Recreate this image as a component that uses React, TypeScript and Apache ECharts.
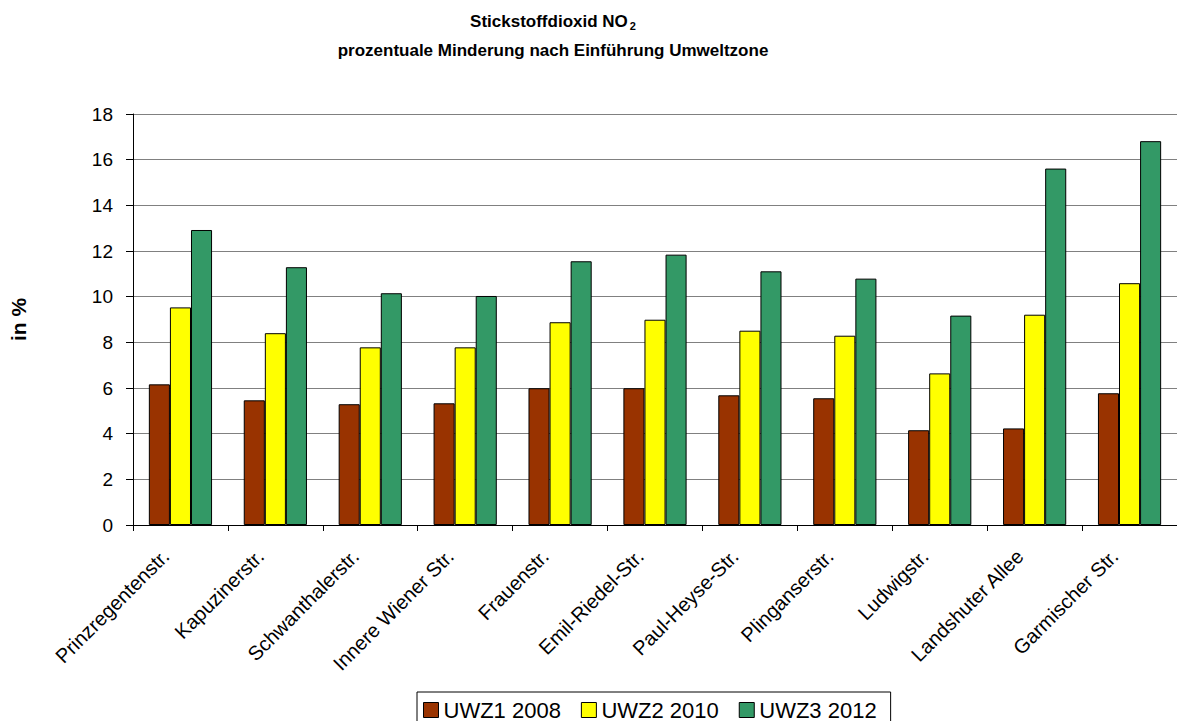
import React, { useEffect, useRef } from "react";
import * as echarts from "echarts";

const categories = [
  "Prinzregentenstr.",
  "Kapuzinerstr.",
  "Schwanthalerstr.",
  "Innere Wiener Str.",
  "Frauenstr.",
  "Emil-Riedel-Str.",
  "Paul-Heyse-Str.",
  "Plinganserstr.",
  "Ludwigstr.",
  "Landshuter Allee",
  "Garmischer Str.",
];

const uwz1_2008 = [6.16, 5.46, 5.29, 5.33, 5.99, 5.99, 5.68, 5.55, 4.15, 4.23, 5.77];
const uwz2_2010 = [9.53, 8.4, 7.78, 7.78, 8.88, 8.99, 8.51, 8.29, 6.64, 9.21, 10.59];
const uwz3_2012 = [12.92, 11.29, 10.15, 10.03, 11.55, 11.84, 11.11, 10.79, 9.17, 15.61, 16.81];

const seriesNames = ["UWZ1 2008", "UWZ2 2010", "UWZ3 2012"];
const seriesColors = ["#993300", "#FFFF00", "#339966"];

const FONT = "'Liberation Sans', Arial, sans-serif";

export default function App() {
  const ref = useRef<HTMLDivElement>(null);

  useEffect(() => {
    if (!ref.current) return;
    const chart = echarts.init(ref.current, undefined, { renderer: "svg" });
    const values = [uwz1_2008, uwz2_2010, uwz3_2012];

    chart.setOption({
      animation: false,
      backgroundColor: "#ffffff",
      textStyle: { fontFamily: FONT },
      graphic: [
        {
          type: "text",
          x: 553,
          y: 21,
          style: {
            text: "{b|Stickstoffdioxid NO}{s|2}",
            align: "center",
            verticalAlign: "middle",
            rich: {
              b: { fontFamily: FONT, fontWeight: "bold", fontSize: 17, fill: "#000" },
              s: { fontFamily: FONT, fontWeight: "bold", fontSize: 11, fill: "#000", padding: [9, 0, 0, 2] },
            },
          },
        },
        {
          type: "text",
          x: 553,
          y: 50,
          style: {
            text: "prozentuale Minderung nach Einführung Umweltzone",
            align: "center",
            verticalAlign: "middle",
            fontFamily: FONT,
            fontWeight: "bold",
            fontSize: 17,
            fill: "#000",
          },
        },
      ],
      legend: {
        data: seriesNames,
        left: 417,
        top: 692,
        orient: "horizontal",
        icon: "rect",
        itemWidth: 15,
        itemHeight: 15,
        itemGap: 20,
        padding: [7, 14, 8, 6],
        borderColor: "#000",
        borderWidth: 1,
        itemStyle: { borderColor: "#000", borderWidth: 1 },
        textStyle: { fontFamily: FONT, fontSize: 22, lineHeight: 22, color: "#000" },
      },
      grid: {
        left: 125,
        top: 114,
        width: 1057,
        height: 411,
        containLabel: false,
      },
      xAxis: {
        type: "category",
        data: categories,
        boundaryGap: true,
        axisLine: { lineStyle: { color: "#000", width: 1 } },
        axisTick: { show: true, alignWithLabel: false, length: 6, lineStyle: { color: "#000" } },
        axisLabel: {
          rotate: 45,
          interval: 0,
          fontFamily: FONT,
          fontSize: 20,
          color: "#000",
          margin: 13,
          padding: [0, 21, 0, 0],
        },
        splitLine: { show: false },
      },
      yAxis: {
        type: "value",
        min: 0,
        max: 18,
        interval: 2,
        name: "in %",
        nameLocation: "middle",
        nameGap: 104,
        nameTextStyle: { fontFamily: FONT, fontWeight: "bold", fontSize: 21, color: "#000" },
        axisLine: { show: true, lineStyle: { color: "#000", width: 1 } },
        axisTick: { show: true, inside: false, length: 7, lineStyle: { color: "#000" } },
        axisLabel: { fontFamily: FONT, fontSize: 19, color: "#000", margin: 20 },
        splitLine: { show: true, lineStyle: { color: "#808080", width: 1 } },
      },
      series: seriesNames.map((name, i) => ({
        name,
        type: "bar",
        data: values[i],
        barGap: "0%",
        barCategoryGap: "33.4%",
        itemStyle: { color: seriesColors[i], borderColor: "#000", borderWidth: 1 },
      })),
    });

    return () => chart.dispose();
  }, []);

  return (
    <div
      ref={ref}
      style={{ position: "fixed", left: 0, top: 0, width: 1177, height: 721 }}
    />
  );
}
